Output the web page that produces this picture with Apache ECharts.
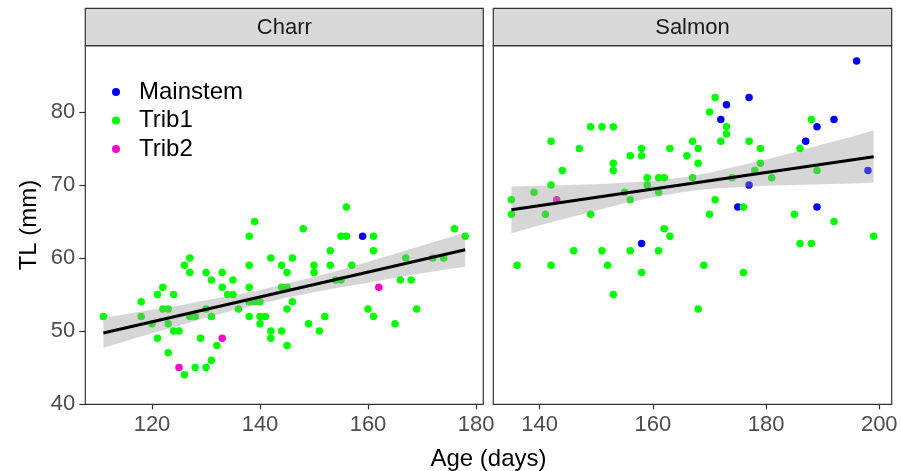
<!DOCTYPE html>
<html>
<head>
<meta charset="utf-8">
<script src="https://cdn.jsdelivr.net/npm/echarts@6/dist/echarts.min.js"></script>
<style>
  html, body { margin: 0; background: #fff; }
  #chart { width: 901px; height: 471px; }
</style>
</head>
<body>
<div id="chart"></div>
<script>
// ---- data ----
const groups = ['Mainstem', 'Trib1', 'Trib2']

const charrAge = [111, 118, 118, 120, 121, 121, 122, 122, 123, 123, 123, 124, 124, 125, 125, 126, 126, 127, 127, 127,
  128, 128, 129, 130, 130, 130, 131, 131, 131, 132, 133, 133, 133, 134, 135, 135, 136, 138, 138, 138,
  138, 138, 139, 139, 140, 140, 140, 141, 142, 142, 142, 144, 144, 144, 145, 145, 145, 145, 146, 146,
  148, 149, 150, 150, 151, 152, 153, 153, 154, 155, 155, 156, 156, 157, 159, 160, 161, 161, 161, 162,
  165, 166, 167, 168, 169, 172, 174, 176, 178]
const charrTL = [52, 54, 52, 51, 55, 49, 56, 53, 53, 51, 47, 55, 50, 50, 45, 59, 44, 60, 58, 52,
  52, 45, 49, 58, 53, 45, 57, 52, 46, 48, 58, 56, 49, 55, 57, 55, 53, 63, 59, 56,
  54, 52, 65, 54, 54, 52, 51, 52, 60, 50, 49, 59, 56, 50, 58, 56, 53, 48, 60, 54,
  64, 51, 59, 58, 50, 52, 61, 59, 57, 63, 57, 67, 63, 59, 63, 53, 63, 61, 52, 56,
  51, 57, 60, 57, 53, 60, 60, 64, 63]
const charrGroup = [1, 1, 1, 1, 1, 1, 1, 1, 1, 1, 1, 1, 1, 1, 2, 1, 1, 1, 1, 1,
  1, 1, 1, 1, 1, 1, 1, 1, 1, 1, 1, 1, 2, 1, 1, 1, 1, 1, 1, 1,
  1, 1, 1, 1, 1, 1, 1, 1, 1, 1, 1, 1, 1, 1, 1, 1, 1, 1, 1, 1,
  1, 1, 1, 1, 1, 1, 1, 1, 1, 1, 1, 1, 1, 1, 0, 1, 1, 1, 1, 2,
  1, 1, 1, 1, 1, 1, 1, 1, 1]

const salmonAge = [196, 171, 177, 173, 170, 172, 188, 192, 149, 151, 153, 173, 189, 142, 167, 172, 173, 177, 187, 147,
  158, 163, 168, 179, 186, 156, 158, 166, 153, 168, 179, 144, 153, 178, 189, 198, 159, 161, 162, 167,
  174, 181, 142, 159, 177, 139, 155, 161, 135, 143, 156, 171, 135, 141, 149, 170, 175, 176, 185, 189,
  192, 136, 142, 146, 151, 152, 153, 156, 158, 158, 161, 162, 163, 168, 169, 176, 186, 188, 199]
const salmonTL = [87, 82, 82, 81, 80, 79, 79, 79, 78, 78, 78, 78, 78, 76, 76, 76, 77, 76, 76, 75,
  75, 75, 75, 75, 75, 74, 74, 74, 73, 73, 73, 72, 72, 72, 72, 72, 71, 71, 71, 71,
  71, 71, 70, 70, 70, 69, 69, 69, 68, 68, 68, 68, 66, 66, 66, 66, 67, 67, 66, 67,
  65, 59, 59, 61, 61, 59, 55, 61, 62, 58, 61, 64, 63, 53, 59, 58, 62, 62, 63]
const salmonGroup = [0, 1, 0, 0, 1, 0, 1, 0, 1, 1, 1, 1, 0, 1, 1, 1, 1, 1, 0, 1,
  1, 1, 1, 1, 1, 1, 1, 1, 1, 1, 1, 1, 1, 1, 1, 0, 1, 1, 1, 1,
  1, 1, 1, 1, 0, 1, 1, 1, 1, 2, 1, 1, 1, 1, 1, 1, 0, 1, 1, 0,
  1, 1, 1, 1, 1, 1, 1, 1, 0, 1, 1, 1, 1, 1, 1, 1, 1, 1, 1]

// fitted line ends and confidence band
const charrFitAge = [111, 178]
const charrFitTL = [49.73, 61.14]
const charrBandAge = [111, 115, 120, 125, 130, 135, 140, 145, 150, 155, 160, 165, 170, 175, 178]
const charrBandLow = [47.7, 48.6, 49.7, 50.7, 51.8, 52.8, 53.7, 54.6, 55.3, 56.0, 56.6, 57.3, 57.9, 58.5, 58.8]
const charrBandHigh = [51.8, 52.3, 52.9, 53.5, 54.2, 54.9, 55.6, 56.5, 57.4, 58.4, 59.5, 60.6, 61.7, 62.8, 63.5]

const salmonFitAge = [135, 199]
const salmonFitTL = [66.62, 73.87]
const salmonBandAge = [135, 140, 145, 150, 155, 160, 165, 170, 175, 180, 185, 190, 195, 199]
const salmonBandLow = [63.4, 64.5, 65.5, 66.5, 67.5, 68.3, 69.0, 69.5, 69.7, 69.9, 70.0, 70.1, 70.2, 70.3]
const salmonBandHigh = [69.8, 69.9, 70.0, 70.1, 70.3, 70.6, 71.0, 71.7, 72.6, 73.5, 74.5, 75.6, 76.6, 77.5]

const charrTicks = [120, 140, 160, 180]
const salmonTicks = [140, 160, 180, 200]
const tlTicks = [40, 50, 60, 70, 80]

// ---- styling ----
const FONT = '"Liberation Sans", Arial, sans-serif'
const colors = { Mainstem: '#0000ff', Trib1: '#00ff00', Trib2: '#ff00cc' }
const panelTop = 45.7
const panelH = 358.6
const panels = [
  { name: 'Charr', left: 85.3, width: 398, min: 107.65, max: 181.35, ticks: charrTicks },
  { name: 'Salmon', left: 493.3, width: 398.4, min: 131.8, max: 202.2, ticks: salmonTicks },
]

const chart = echarts.init(document.getElementById('chart'), null, { renderer: 'canvas' })

function scatterSeries(ages, tls, grp, idx) {
  return groups.map((g, gi) => ({
    name: g,
    type: 'scatter',
    xAxisIndex: idx,
    yAxisIndex: idx,
    symbolSize: 7.5,
    itemStyle: { color: colors[g], opacity: 1 },
    z: 2,
    data: ages.map((a, i) => [a, tls[i], grp[i]]).filter((d) => d[2] === gi).map((d) => [d[0], d[1]]),
  }))
}

function bandSeries(ages, lo, hi, idx) {
  return {
    type: 'custom',
    xAxisIndex: idx,
    yAxisIndex: idx,
    z: 3,
    silent: true,
    data: ages.map((a, i) => [a, lo[i], hi[i]]),
    renderItem: (params, api) => {
      if (params.dataIndex !== 0) return
      const pts = []
      ages.forEach((a, i) => pts.push(api.coord([a, hi[i]])))
      for (let i = ages.length - 1; i >= 0; i--) pts.push(api.coord([ages[i], lo[i]]))
      return {
        type: 'polygon',
        shape: { points: pts },
        style: { fill: 'rgba(153,153,153,0.4)', stroke: null },
      }
    },
  }
}

function fitSeries(ages, tls, idx) {
  return {
    type: 'line',
    xAxisIndex: idx,
    yAxisIndex: idx,
    z: 4,
    silent: true,
    symbol: 'none',
    lineStyle: { color: '#000', width: 3 },
    data: ages.map((a, i) => [a, tls[i]]),
  }
}

const option = {
  animation: false,
  backgroundColor: '#fff',
  textStyle: { fontFamily: FONT },
  grid: panels.map((p) => ({
    left: p.left,
    top: panelTop,
    width: p.width,
    height: panelH,
    show: true,
    backgroundColor: '#fff',
    borderColor: '#333',
    borderWidth: 1.2,
  })),
  xAxis: panels.map((p, i) => ({
    type: 'value',
    gridIndex: i,
    min: p.min,
    max: p.max,
    axisLine: { show: false },
    splitLine: { show: false },
    axisTick: { show: true, length: 5, lineStyle: { color: '#333', width: 1.2 }, customValues: p.ticks },
    axisLabel: { fontSize: 22, color: '#4d4d4d', margin: 10, fontFamily: FONT, customValues: p.ticks },
  })),
  yAxis: panels.map((p, i) => ({
    type: 'value',
    gridIndex: i,
    min: 39.95,
    max: 89.1,
    name: i === 0 ? 'TL (mm)' : '',
    nameLocation: 'middle',
    nameGap: 44,
    nameTextStyle: { fontSize: 24, color: '#000', fontFamily: FONT },
    axisLine: { show: false },
    splitLine: { show: false },
    axisTick: { show: i === 0, length: 6, lineStyle: { color: '#333', width: 1.2 }, customValues: tlTicks },
    axisLabel: { show: i === 0, fontSize: 22, color: '#4d4d4d', margin: 10, fontFamily: FONT, customValues: tlTicks },
  })),
  legend: {
    data: groups,
    orient: 'vertical',
    left: 112,
    top: 78,
    padding: 0,
    icon: 'circle',
    itemWidth: 8,
    itemHeight: 8,
    itemGap: 0.5,
    textStyle: { fontSize: 24, color: '#000', lineHeight: 28, padding: [0, 0, 0, 14], fontFamily: FONT },
  },
  graphic: panels.flatMap((p) => [
    {
      type: 'rect',
      shape: { x: p.left, y: 8.3, width: p.width, height: panelTop - 8.3 },
      style: { fill: '#d9d9d9', stroke: '#333', lineWidth: 1.2 },
    },
    {
      type: 'text',
      x: p.left + p.width / 2,
      y: (8.3 + panelTop) / 2 + 1,
      style: { text: p.name, fontSize: 22, fill: '#1a1a1a', font: '22px ' + FONT, textAlign: 'center', textVerticalAlign: 'middle' },
    },
  ]).concat([
    {
      type: 'text',
      x: 488.5,
      y: 459,
      style: { text: 'Age (days)', font: '24px ' + FONT, fill: '#000', textAlign: 'center', textVerticalAlign: 'middle' },
    },
  ]),
  series: [
    ...scatterSeries(charrAge, charrTL, charrGroup, 0),
    ...scatterSeries(salmonAge, salmonTL, salmonGroup, 1),
    bandSeries(charrBandAge, charrBandLow, charrBandHigh, 0),
    bandSeries(salmonBandAge, salmonBandLow, salmonBandHigh, 1),
    fitSeries(charrFitAge, charrFitTL, 0),
    fitSeries(salmonFitAge, salmonFitTL, 1),
  ],
}

chart.setOption(option)
</script>
</body>
</html>
